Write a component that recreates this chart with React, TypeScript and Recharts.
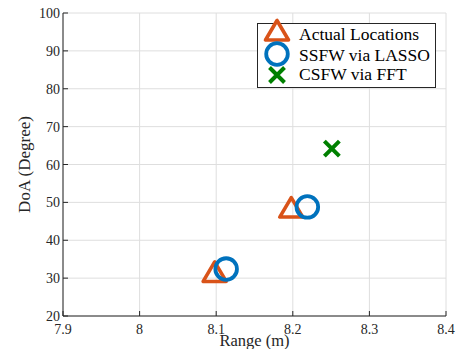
import React from "react";
import {
  ScatterChart,
  Scatter,
  XAxis,
  YAxis,
  CartesianGrid,
  Legend,
} from "recharts";

const actualRange = [8.098, 8.198];
const actualDoA = [31.5, 48.5];
const lassoRange = [8.113, 8.219];
const lassoDoA = [32.4, 48.8];
const fftRange = [8.251];
const fftDoA = [64.2];

const xTicks = [7.9, 8, 8.1, 8.2, 8.3, 8.4];
const yTicks = [20, 30, 40, 50, 60, 70, 80, 90, 100];

const seriesNames = ["Actual Locations", "SSFW via LASSO", "CSFW via FFT"];

const toPoints = (xs: number[], ys: number[]) =>
  xs.map((x, i) => ({ x, y: ys[i] }));

const actualData = toPoints(actualRange, actualDoA);
const lassoData = toPoints(lassoRange, lassoDoA);
const fftData = toPoints(fftRange, fftDoA);

const ORANGE = "#D95319";
const BLUE = "#0072BD";
const GREEN = "#008000";
const AXIS = "#262626";
const FONT = "'Liberation Serif', 'DejaVu Serif', serif";

const Triangle = ({ cx, cy }: any) => (
  <polygon
    points={`${cx},${cy - 10.5} ${cx - 11.5},${cy + 9} ${cx + 11.5},${cy + 9}`}
    fill="none"
    stroke={ORANGE}
    strokeWidth={3.6}
    strokeLinejoin="round"
  />
);

const Ring = ({ cx, cy }: any) => (
  <circle cx={cx} cy={cy} r={10.8} fill="none" stroke={BLUE} strokeWidth={3.8} />
);

const Cross = ({ cx, cy }: any) => (
  <path
    d={`M${cx - 7.5},${cy - 7.5}L${cx + 7.5},${cy + 7.5}M${cx - 7.5},${cy + 7.5}L${cx + 7.5},${cy - 7.5}`}
    stroke={GREEN}
    strokeWidth={4}
  />
);

const BottomTick = ({ x, y, payload }: any) => (
  <g>
    <line x1={x} x2={x} y1={y} y2={y - 5} stroke={AXIS} />
    <text x={x} y={y + 18} textAnchor="middle" fill={AXIS} fontSize={14} fontFamily={FONT}>
      {payload.value}
    </text>
  </g>
);

const LeftTick = ({ x, y, payload }: any) => (
  <g>
    <line x1={x} x2={x + 5} y1={y} y2={y} stroke={AXIS} />
    <text x={x - 3} y={y + 5} textAnchor="end" fill={AXIS} fontSize={14} fontFamily={FONT}>
      {payload.value}
    </text>
  </g>
);

const TopTick = ({ x, y }: any) => (
  <line x1={x} x2={x} y1={y} y2={y + 5} stroke={AXIS} />
);

const RightTick = ({ x, y }: any) => (
  <line x1={x} x2={x - 5} y1={y} y2={y} stroke={AXIS} />
);

const XLabel = ({ viewBox }: any) => (
  <text
    x={viewBox.x + viewBox.width / 2}
    y={viewBox.y + 29.5}
    textAnchor="middle"
    fill={AXIS}
    fontSize={16.5}
    fontFamily={FONT}
  >
    Range (m)
  </text>
);

const YLabel = ({ viewBox }: any) => {
  const cx = viewBox.x + 24;
  const cy = viewBox.y + viewBox.height / 2;
  return (
    <text
      x={cx}
      y={cy}
      transform={`rotate(-90, ${cx}, ${cy})`}
      textAnchor="middle"
      dominantBaseline="central"
      fill={AXIS}
      fontSize={17}
      fontFamily={FONT}
    >
      DoA (Degree)
    </text>
  );
};

const LegendBox = () => {
  const markers = [Triangle, Ring, Cross];
  const rowY = [8, 31, 52];
  const textY = [17, 37.5, 57];
  return (
    <svg width={179} height={65} style={{ overflow: "visible", display: "block" }}>
      <rect x={0.5} y={0.5} width={178} height={64} fill="#fff" stroke={AXIS} strokeWidth={1} />
      {seriesNames.map((name, i) => {
        const M = markers[i];
        return (
          <g key={name}>
            <M cx={20} cy={rowY[i]} />
            <text x={42} y={textY[i]} fill="#000" fontSize={17.5} fontFamily={FONT}>
              {name}
            </text>
          </g>
        );
      })}
    </svg>
  );
};

export default function App() {
  return (
    <div style={{ position: "fixed", left: 0, top: 0, background: "#fff" }}>
      <ScatterChart
        width={458}
        height={349}
        margin={{ top: 13, right: 12, bottom: 0, left: 0 }}
      >
        <CartesianGrid stroke="#dedede" strokeWidth={1} />
        <XAxis
          dataKey="x"
          type="number"
          domain={[7.9, 8.4]}
          ticks={xTicks}
          interval={0}
          height={33}
          tickSize={0}
          tickMargin={0}
          tickLine={false}
          stroke={AXIS}
          tick={<BottomTick />}
          label={<XLabel />}
        />
        <XAxis
          xAxisId="top"
          orientation="top"
          type="number"
          domain={[7.9, 8.4]}
          ticks={xTicks}
          interval={0}
          height={0}
          tickSize={0}
          tickMargin={0}
          tickLine={false}
          stroke={AXIS}
          tick={<TopTick />}
        />
        <YAxis
          dataKey="y"
          type="number"
          domain={[20, 100]}
          ticks={yTicks}
          interval={0}
          width={63}
          tickSize={0}
          tickMargin={0}
          tickLine={false}
          stroke={AXIS}
          tick={<LeftTick />}
          label={<YLabel />}
        />
        <YAxis
          yAxisId="right"
          orientation="right"
          type="number"
          domain={[20, 100]}
          ticks={yTicks}
          interval={0}
          width={0}
          tickSize={0}
          tickMargin={0}
          tickLine={false}
          stroke={AXIS}
          tick={<RightTick />}
        />
        <Legend
          layout="vertical"
          align="center"
          verticalAlign="middle"
          content={<LegendBox />}
          wrapperStyle={{ left: 257, top: 23, width: 179, height: 65 }}
        />
        <Scatter
          name={seriesNames[0]}
          data={actualData}
          shape={<Triangle />}
          isAnimationActive={false}
        />
        <Scatter
          name={seriesNames[1]}
          data={lassoData}
          shape={<Ring />}
          isAnimationActive={false}
        />
        <Scatter
          name={seriesNames[2]}
          data={fftData}
          shape={<Cross />}
          isAnimationActive={false}
        />
      </ScatterChart>
    </div>
  );
}
